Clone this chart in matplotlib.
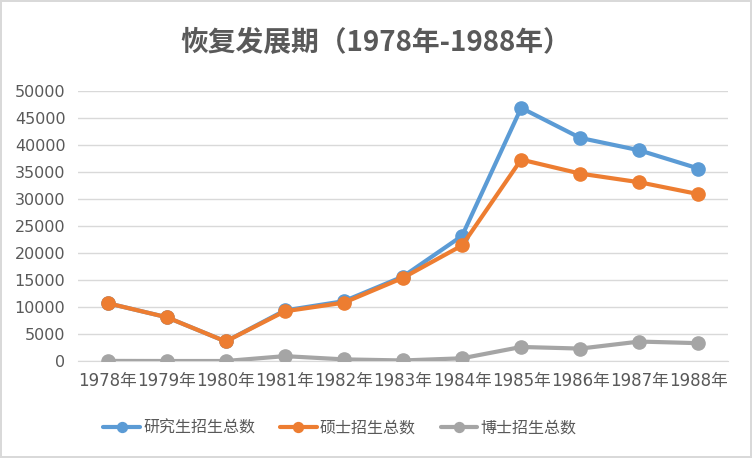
import numpy as np
import matplotlib.pyplot as plt

plt.rcParams['font.family'] = ['Noto Sans CJK SC', 'DejaVu Sans']

# Data
years = ['1978年', '1979年', '1980年', '1981年', '1982年', '1983年',
         '1984年', '1985年', '1986年', '1987年', '1988年']
total = [10708, 8110, 3616, 9363, 11080, 15642, 23181, 46871, 41310, 39017, 35645]
master = [10708, 8110, 3616, 9200, 10800, 15400, 21400, 37300, 34700, 33100, 30900]
doctor = [18, 0, 0, 900, 300, 100, 500, 2600, 2300, 3600, 3300]
series_names = ['研究生招生总数', '硕士招生总数', '博士招生总数']
colors = ['#5b9bd5', '#ed7d31', '#a5a5a5']

# wider digits for tick labels, CJK fallback for 年
tick_font = ['DejaVu Sans', 'Noto Sans CJK SC']

fig = plt.figure(figsize=(7.52, 4.58), dpi=100)
fig.patch.set_edgecolor('#d9d9d9')
fig.patch.set_linewidth(1.5)
ax = fig.add_axes([78 / 752, 1 - 361 / 458, 650 / 752, 270 / 458])

x = np.arange(len(years))
for vals, name, c in zip([total, master, doctor], series_names, colors):
    ax.plot(x, vals, color=c, lw=3, marker='o', markersize=9.5,
            label=name, solid_capstyle='round', zorder=3)

ax.set_xlim(-0.5, len(years) - 0.5)
ax.set_ylim(0, 50000)
ax.set_yticks(np.arange(0, 50001, 5000))
ax.set_xticks(x)
ax.set_xticklabels(years)
ax.yaxis.grid(True, color='#d9d9d9', lw=1)
ax.set_axisbelow(True)
for s in ['top', 'right', 'left']:
    ax.spines[s].set_visible(False)
ax.spines['bottom'].set_color('#d9d9d9')
ax.tick_params(axis='both', length=0, colors='#595959', labelfontfamily=tick_font)
ax.tick_params(axis='y', pad=9, labelsize=11.5)
ax.tick_params(axis='x', pad=8, labelsize=12)

fig.text(0.5, 1 - 43 / 458, '恢复发展期（1978年-1988年）', ha='center', va='center',
         fontsize=20, fontweight='bold', color='#595959')

ax.legend(loc='center', bbox_to_anchor=((340 - 78) / 650, (361 - 428) / 270), ncol=3,
          frameon=False, fontsize=11.5, labelcolor='#595959', markerscale=0.75,
          handlelength=2.3, columnspacing=1.55, handletextpad=0.2)

fig.savefig('out.png', dpi=100)
